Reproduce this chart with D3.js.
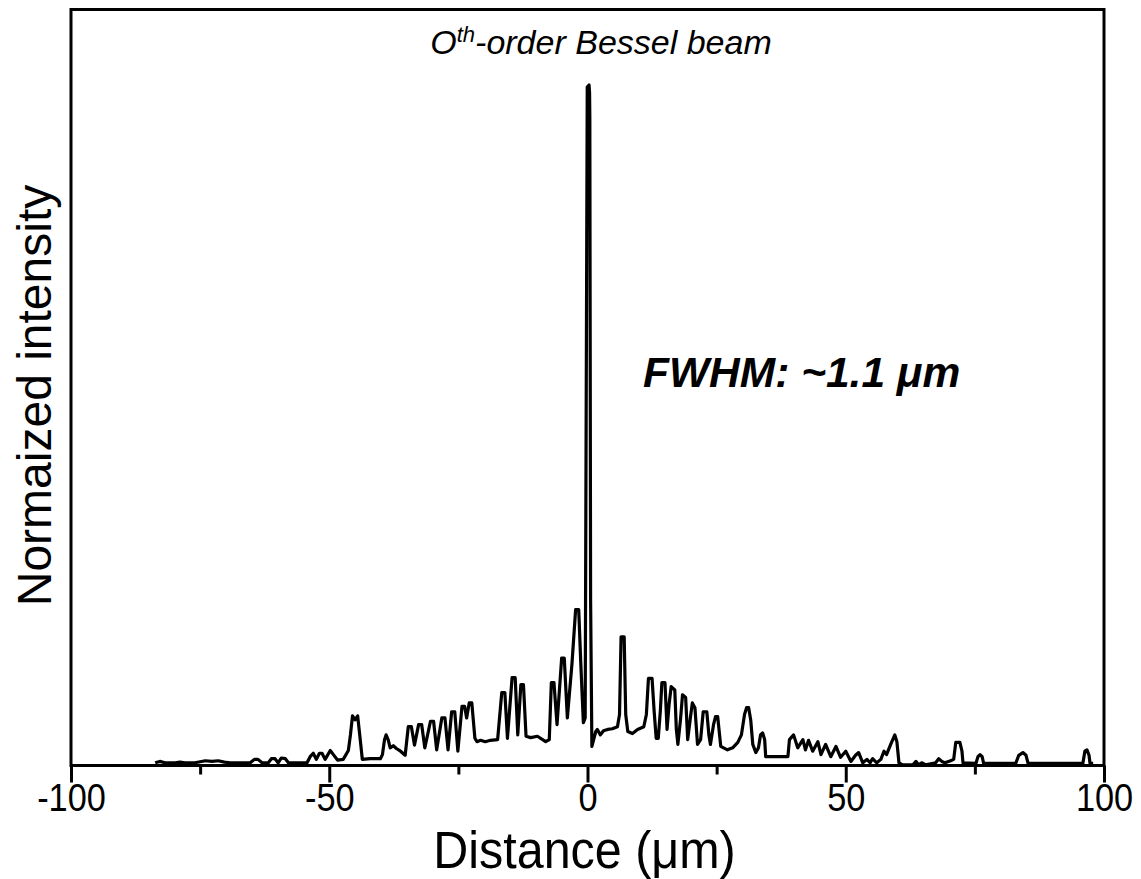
<!DOCTYPE html>
<html>
<head>
<meta charset="utf-8">
<script src="https://cdn.jsdelivr.net/npm/d3@7"></script>
<style>
  html, body { margin: 0; padding: 0; background: #fff; }
  svg { display: block; }
  text { font-family: "Liberation Sans", Arial, sans-serif; fill: #000; }
</style>
</head>
<body>
<svg id="chart" width="1141" height="879"></svg>
<script>
// ---- data ----
const distance = [
  -83.7,-82.8,-81.8,-79.8,-78.9,-77.9,-76.0,-74.0,-72.7,-71.5,-70.3,-69.2,-65.3,-64.5,-63.8,-63.0,-61.8,-61.2,-60.5,-59.9,
  -59.3,-58.5,-57.9,-54.3,-53.7,-53.1,-52.5,-51.9,-51.4,-50.8,-49.8,-49.2,-48.4,-47.3,-46.3,-45.9,-45.5,-45.0,-44.5,-44.0,
  -43.6,-42.1,-40.1,-39.7,-39.3,-39.0,-38.6,-38.2,-37.6,-37.0,-36.2,-35.3,
  -34.7,-34.1,-33.5,-32.7,-32.1,-31.5,-30.4,-29.8,-29.2,-28.2,-27.6,-27.0,-26.3,-25.7,-25.1,-24.3,-23.8,-23.4,-22.9,-22.4,-21.8,
  -21.4,-20.7,-19.8,-18.8,-17.4,-16.6,-16.0,-15.5,-14.6,-14.0,-13.5,-12.9,-12.4,-11.9,-11.0,-9.7,-8.1,-7.4,
  -7.0,-6.5,-5.9,-5.0,-4.5,-3.9,-3.0,-2.3,-1.7,-1.3,-0.8,-0.45,-0.05,0.3,0.4,0.45,0.6,0.85,
  1.6,1.9,2.5,3.1,3.9,4.8,5.8,6.2,6.5,7.1,7.4,7.8,8.7,9.7,10.9,11.4,11.8,12.5,12.9,13.3,
  13.7,14.1,14.4,15.0,15.4,15.8,16.2,16.9,17.2,17.5,18.0,18.4,19.0,19.4,20.0,20.3,20.8,21.3,21.9,22.4,
  23.1,23.5,23.8,24.4,24.8,25.2,25.8,27.1,28.1,29.1,29.8,30.4,30.8,31.2,31.6,32.0,32.6,33.1,33.5,33.9,34.3,34.5,
  38.8,39.1,39.9,40.7,41.7,42.2,42.8,43.6,44.6,45.2,46.1,47.1,48.1,49.0,50.0,51.0,51.9,52.5,53.3,54.1,54.7,
  55.2,56.0,56.8,57.4,57.9,58.7,59.5,59.9,60.3,61.0,63.0,63.6,64.1,64.7,65.5,67.4,68.0,68.6,69.2,70.3,
  70.9,71.3,72.1,72.5,72.7,75.2,75.6,76.0,76.4,76.7,82.9,83.5,84.3,84.9,85.3,95.9,96.3,96.7,97.1,97.3,97.9
];
const intensity = [
  0.004,0.006,0.004,0.004,0.005,0.004,0.004,0.007,0.006,0.007,0.005,0.004,0.004,0.009,0.009,0.004,0.004,0.010,0.010,0.004,
  0.011,0.010,0.004,0.004,0.013,0.018,0.009,0.018,0.018,0.009,0.022,0.016,0.008,0.009,0.022,0.045,0.073,0.067,0.073,0.038,
  0.009,0.010,0.010,0.016,0.038,0.045,0.038,0.026,0.029,0.025,0.021,0.015,
  0.057,0.057,0.030,0.060,0.060,0.026,0.065,0.065,0.023,0.070,0.070,0.023,0.079,0.079,0.021,0.087,0.087,0.070,0.092,0.092,0.040,
  0.035,0.037,0.035,0.037,0.038,0.107,0.107,0.040,0.129,0.129,0.045,0.119,0.119,0.043,0.041,0.043,0.035,0.038,
  0.122,0.122,0.060,0.158,0.158,0.070,0.150,0.229,0.229,0.150,0.063,0.070,0.997,1.000,0.988,0.952,0.243,0.028,
  0.050,0.053,0.045,0.051,0.053,0.054,0.057,0.075,0.189,0.189,0.075,0.050,0.047,0.053,0.057,0.075,0.128,0.128,0.080,0.040,
  0.040,0.080,0.122,0.122,0.053,0.090,0.116,0.111,0.053,0.031,0.067,0.104,0.100,0.038,0.075,0.092,0.085,0.031,0.038,0.079,
  0.079,0.045,0.031,0.060,0.072,0.072,0.028,0.023,0.026,0.034,0.045,0.075,0.085,0.085,0.067,0.031,0.019,0.026,0.045,0.048,0.038,0.013,
  0.013,0.038,0.045,0.026,0.038,0.023,0.037,0.021,0.035,0.016,0.031,0.013,0.028,0.012,0.021,0.006,0.015,0.019,0.004,0.009,0.004,
  0.010,0.004,0.009,0.021,0.016,0.031,0.045,0.035,0.004,0.001,0.001,0.006,0.001,0.004,0.001,0.004,0.010,0.006,0.004,0.007,
  0.009,0.034,0.034,0.021,0.004,0.003,0.013,0.016,0.013,0.003,0.003,0.015,0.019,0.015,0.003,0.003,0.021,0.023,0.015,0.003,0.003
];
const majorTicks = [-100, -50, 0, 50, 100];
const minorTicks = [-75, -25, 25, 75];
const xDomain = [-100, 100];
const yDomain = [0, 1.111];
const xTitle = "Distance (\u03BCm)";
const yTitle = "Normaized intensity";
const annotation = "FWHM: ~1.1 \u03BCm";

// ---- layout ----
const svg = d3.select("#chart");
const mL = 71, mR = 1104, mT = 9.5, mB = 765.5;

const x = d3.scaleLinear().domain(xDomain).range([mL, mR]);
const y = d3.scaleLinear().domain(yDomain).range([mB, mT]);

const n = Math.min(distance.length, intensity.length);
const pts = d3.range(n).map(i => [distance[i], intensity[i]]);

// data line
svg.append("path")
  .datum(pts)
  .attr("fill", "none")
  .attr("stroke", "#000")
  .attr("stroke-width", 3.2)
  .attr("stroke-linejoin", "round")
  .attr("d", d3.line().x(d => x(d[0])).y(d => y(d[1])));

// frame
svg.append("rect")
  .attr("x", mL).attr("y", mT)
  .attr("width", mR - mL).attr("height", mB - mT)
  .attr("fill", "none").attr("stroke", "#000").attr("stroke-width", 3);

// x axis (major)
const gMaj = svg.append("g").attr("transform", `translate(0,${mB})`)
  .call(d3.axisBottom(x).tickValues(majorTicks).tickSize(17).tickPadding(1).tickFormat(d => String(d)));
gMaj.select(".domain").remove();
gMaj.selectAll(".tick line").attr("stroke", "#000").attr("stroke-width", 3);
gMaj.selectAll(".tick text")
  .style("font-family", "'Liberation Sans', Arial, sans-serif")
  .style("font-size", "39px").attr("fill", "#000")
  .attr("transform", "scale(0.88,1)");

// x axis (minor)
const gMin = svg.append("g").attr("transform", `translate(0,${mB})`)
  .call(d3.axisBottom(x).tickValues(minorTicks).tickSize(9).tickFormat(""));
gMin.select(".domain").remove();
gMin.selectAll(".tick line").attr("stroke", "#000").attr("stroke-width", 3);

// axis titles
svg.append("text")
  .attr("transform", `translate(${(mL + mR) / 2 - 3},868) scale(0.95,1)`)
  .attr("text-anchor", "middle")
  .style("font-size", "51px")
  .text(xTitle);

svg.append("text")
  .attr("transform", `translate(51,${(mT + mB) / 2 + 8}) rotate(-90)`)
  .attr("text-anchor", "middle")
  .style("font-size", "48px")
  .text(yTitle);

// title
const t = svg.append("text")
  .attr("x", 601).attr("y", 54)
  .attr("text-anchor", "middle")
  .style("font-size", "34px").style("font-style", "italic");
t.append("tspan").text("O");
t.append("tspan").attr("dy", -12).style("font-size", "22px").text("th");
t.append("tspan").attr("dy", 12).text("-order Bessel beam");

// annotation
svg.append("text")
  .attr("x", 643).attr("y", 387)
  .style("font-size", "42.5px").style("font-weight", "bold").style("font-style", "italic")
  .text(annotation);
</script>
</body>
</html>
